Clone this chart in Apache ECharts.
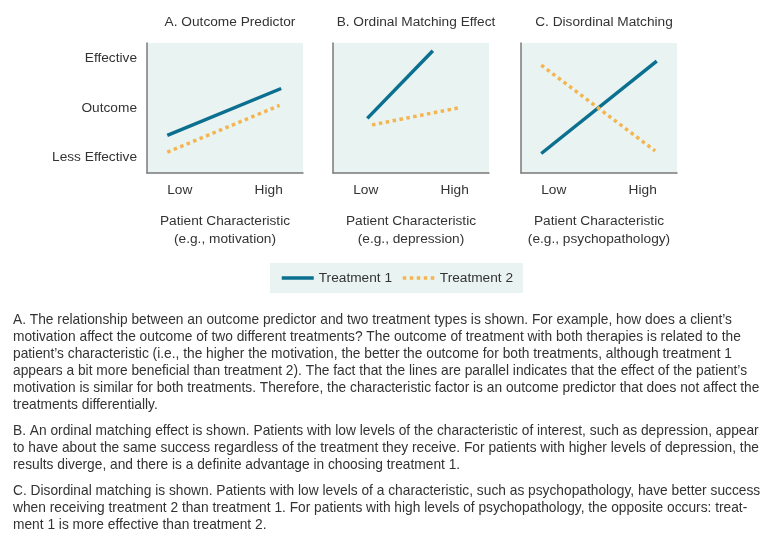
<!DOCTYPE html>
<html>
<head>
<meta charset="utf-8">
<script src="https://cdn.jsdelivr.net/npm/echarts@6/dist/echarts.min.js"></script>
<style>
  html, body { margin: 0; padding: 0; background: #fff; }
  #chart { width: 776px; height: 544px; }
</style>
</head>
<body>
<div id="chart"></div>
<script>
// ---- data ----
const panelTitles = ['A. Outcome Predictor', 'B. Ordinal Matching Effect', 'C. Disordinal Matching'];
const xAxisNames = [
  'Patient Characteristic\n(e.g., motivation)',
  'Patient Characteristic\n(e.g., depression)',
  'Patient Characteristic\n(e.g., psychopathology)'
];
const seriesNames = ['Treatment 1', 'Treatment 2'];
const xTickValues = [21, 78];
const xTickLabels = ['Low', 'High'];
const yTickValues = [12, 50, 88];
const yTickLabels = ['Less Effective', 'Outcome', 'Effective'];

const treatment1A = [[13, 29], [86, 65]];
const treatment2A = [[13, 16], [85, 52]];
const treatment1B = [[22, 42], [64, 94]];
const treatment2B = [[25, 37], [80, 50]];
const treatment1C = [[13, 15], [87, 86]];
const treatment2C = [[13, 83], [86, 17]];

const paragraphA = [
  'A. The relationship between an outcome predictor and two treatment types is shown. For example, how does a client\u2019s',
  'motivation affect the outcome of two different treatments? The outcome of treatment with both therapies is related to the',
  'patient\u2019s characteristic (i.e., the higher the motivation, the better the outcome for both treatments, although treatment 1',
  'appears a bit more beneficial than treatment 2). The fact that the lines are parallel indicates that the effect of the patient\u2019s',
  'motivation is similar for both treatments. Therefore, the characteristic factor is an outcome predictor that does not affect the',
  'treatments differentially.'
];
const paragraphB = [
  'B. An ordinal matching effect is shown. Patients with low levels of the characteristic of interest, such as depression, appear',
  'to have about the same success regardless of the treatment they receive. For patients with higher levels of depression, the',
  'results diverge, and there is a definite advantage in choosing treatment 1.'
];
const paragraphC = [
  'C. Disordinal matching is shown. Patients with low levels of a characteristic, such as psychopathology, have better success',
  'when receiving treatment 2 than treatment 1. For patients with high levels of psychopathology, the opposite occurs: treat-',
  'ment 1 is more effective than treatment 2.'
];

// ---- styles ----
const FONT = 'Liberation Sans, Arial, sans-serif';
const FS = 13.7;
const TEXT = '#333333';
const TEAL = '#0b7090';
const ORANGE = '#f4b550';
const BG = '#e9f3f1';
const gridLefts = [147, 333, 521];
const t1 = [treatment1A, treatment1B, treatment1C];
const t2 = [treatment2A, treatment2B, treatment2C];

const grids = [], xAxes = [], yAxes = [], series = [], titles = [];
gridLefts.forEach((left, i) => {
  grids.push({ left: left, top: 43, width: 156, height: 130, show: true,
    backgroundColor: BG, borderWidth: 0 });
  titles.push({ text: panelTitles[i], left: left + 78, top: 10, textAlign: 'center',
    textStyle: { fontFamily: FONT, fontSize: FS, fontWeight: 'normal', color: TEXT } });
  xAxes.push({ gridIndex: i, type: 'value', min: 0, max: 100,
    name: xAxisNames[i], nameLocation: 'middle', nameGap: 39,
    nameTextStyle: { fontFamily: FONT, fontSize: FS, color: TEXT, lineHeight: 18 },
    axisLine: { show: true, lineStyle: { color: '#7a7a7a', width: 1.5 } },
    axisTick: { show: false }, splitLine: { show: false },
    axisLabel: { customValues: xTickValues, margin: 10, fontFamily: FONT, fontSize: FS, color: TEXT,
      formatter: v => xTickLabels[xTickValues.indexOf(v)] } });
  yAxes.push({ gridIndex: i, type: 'value', min: 0, max: 100,
    axisLine: { show: true, lineStyle: { color: '#7a7a7a', width: 1.5 } },
    axisTick: { show: false }, splitLine: { show: false },
    axisLabel: { show: i === 0, customValues: yTickValues, margin: 10, fontFamily: FONT, fontSize: FS, color: TEXT,
      formatter: v => yTickLabels[yTickValues.indexOf(v)] } });
  series.push({ name: seriesNames[0], type: 'line', xAxisIndex: i, yAxisIndex: i,
    data: t1[i], symbol: 'none', silent: true, animation: false,
    lineStyle: { color: TEAL, width: 3.5, cap: 'butt' }, itemStyle: { color: TEAL } });
  series.push({ name: seriesNames[1], type: 'line', xAxisIndex: i, yAxisIndex: i,
    data: t2[i], symbol: 'none', silent: true, animation: false,
    lineStyle: { color: ORANGE, width: 3.5, type: [3.5, 3.5], cap: 'butt' }, itemStyle: { color: ORANGE } });
});

function para(lines, top) {
  return { type: 'text', left: 13, top: top, silent: true,
    style: { text: lines.join('\n'), font: '13.75px ' + FONT, fill: TEXT, lineHeight: 17 } };
}

const chart = echarts.init(document.getElementById('chart'), null, { renderer: 'canvas' });
chart.setOption({
  animation: false,
  backgroundColor: '#ffffff',
  title: titles,
  grid: grids,
  xAxis: xAxes,
  yAxis: yAxes,
  series: series,
  legend: {
    data: seriesNames, left: 270, top: 263, backgroundColor: BG,
    padding: [8, 10, 8, 10], itemWidth: 32, itemHeight: 14, itemGap: 9,
    selectedMode: false,
    itemStyle: { opacity: 0 },
    lineStyle: { width: 3.5 },
    textStyle: { fontFamily: FONT, fontSize: FS, color: TEXT }
  },
  graphic: [
    para(paragraphA, 312),
    para(paragraphB, 423),
    para(paragraphC, 483)
  ]
});
</script>
</body>
</html>
